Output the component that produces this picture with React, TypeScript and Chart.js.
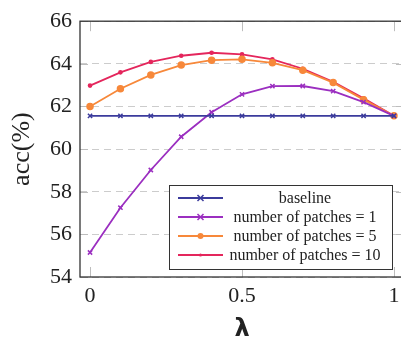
import React, { useEffect, useRef } from 'react';
import { Chart, registerables } from 'chart.js';

Chart.register(...registerables);

const lambdas = [0, 0.1, 0.2, 0.3, 0.4, 0.5, 0.6, 0.7, 0.8, 0.9, 1.0];
const baseline = [61.56, 61.56, 61.56, 61.56, 61.56, 61.56, 61.56, 61.56, 61.56, 61.56, 61.56];
const patches1 = [55.15, 57.25, 59.02, 60.58, 61.73, 62.57, 62.95, 62.96, 62.72, 62.2, 61.56];
const patches5 = [62.0, 62.83, 63.48, 63.94, 64.17, 64.21, 64.05, 63.7, 63.12, 62.32, 61.56];
const patches10 = [62.98, 63.6, 64.09, 64.38, 64.52, 64.44, 64.21, 63.77, 63.16, 62.38, 61.56];
const xTicks = [0, 0.5, 1];
const yTicks = [54, 56, 58, 60, 62, 64, 66];
const seriesLabels = ['baseline', 'number of patches = 1', 'number of patches = 5', 'number of patches = 10'];

const COLORS = ['#3b3b9c', '#9b2fc0', '#f7883a', '#e4265c'];
const STYLES = ['crossRot', 'crossRot', 'circle', 'circle'];
const RADII = [3, 3, 3, 1.6];
const FONT = '"Liberation Serif", "Times New Roman", serif';

function drawMarker(ctx: CanvasRenderingContext2D, style: string, x: number, y: number, r: number, color: string) {
  ctx.save();
  ctx.strokeStyle = color;
  ctx.fillStyle = color;
  ctx.lineWidth = 1.5;
  if (style === 'crossRot') {
    ctx.beginPath();
    ctx.moveTo(x - r, y - r);
    ctx.lineTo(x + r, y + r);
    ctx.moveTo(x - r, y + r);
    ctx.lineTo(x + r, y - r);
    ctx.stroke();
  } else {
    ctx.beginPath();
    ctx.arc(x, y, r, 0, Math.PI * 2);
    ctx.fill();
  }
  ctx.restore();
}

const framePlugin = {
  id: 'frame',
  beforeDatasetsDraw(chart: any) {
    const { ctx, chartArea: a, scales } = chart;
    ctx.save();
    ctx.strokeStyle = '#bdbdbd';
    ctx.lineWidth = 1;
    xTicks.forEach((v) => {
      const px = Math.round(scales.x.getPixelForValue(v)) + 0.5;
      ctx.beginPath();
      ctx.moveTo(px, a.bottom);
      ctx.lineTo(px, a.bottom - 10);
      ctx.moveTo(px, a.top);
      ctx.lineTo(px, a.top + 10);
      ctx.stroke();
    });
    yTicks.forEach((v) => {
      const py = Math.round(scales.y.getPixelForValue(v)) + 0.5;
      ctx.beginPath();
      ctx.moveTo(a.left, py);
      ctx.lineTo(a.left + 8, py);
      ctx.moveTo(a.right, py);
      ctx.lineTo(a.right - 8, py);
      ctx.stroke();
    });
    ctx.restore();
  },
  afterDraw(chart: any) {
    const { ctx, chartArea: a } = chart;
    ctx.save();
    ctx.strokeStyle = '#333333';
    ctx.lineWidth = 1.3;
    ctx.strokeRect(a.left, a.top, a.right - a.left, a.bottom - a.top);

    // legend
    const bx = a.right - 235;
    const by = a.bottom - 92;
    const bw = 223;
    const bh = 84;
    ctx.fillStyle = '#ffffff';
    ctx.fillRect(bx, by, bw, bh);
    ctx.strokeStyle = '#333333';
    ctx.lineWidth = 1;
    ctx.strokeRect(bx + 0.5, by + 0.5, bw, bh);
    ctx.font = `16px ${FONT}`;
    ctx.textAlign = 'center';
    ctx.textBaseline = 'middle';
    seriesLabels.forEach((lab, i) => {
      const cy = by + 13 + i * 19;
      ctx.strokeStyle = COLORS[i];
      ctx.lineWidth = 2;
      ctx.beginPath();
      ctx.moveTo(bx + 9, cy);
      ctx.lineTo(bx + 54, cy);
      ctx.stroke();
      drawMarker(ctx, STYLES[i], bx + 31.5, cy, RADII[i], COLORS[i]);
      ctx.fillStyle = '#222222';
      ctx.fillText(lab, bx + 136, cy + 1);
    });
    ctx.restore();
  },
};

export default function App() {
  const ref = useRef<HTMLCanvasElement>(null);
  useEffect(() => {
    if (!ref.current) return;
    const mk = (vals: number[], i: number) => ({
      label: seriesLabels[i],
      data: lambdas.map((x, k) => ({ x, y: vals[k] })),
      borderColor: COLORS[i],
      backgroundColor: COLORS[i],
      pointStyle: STYLES[i] as any,
      pointRadius: RADII[i],
      pointBorderWidth: 1.5,
      borderWidth: 1.8,
      tension: 0,
      fill: false,
    });
    const chart = new Chart(ref.current, {
      type: 'line',
      data: {
        datasets: [mk(baseline, 0), mk(patches1, 1), mk(patches5, 2), mk(patches10, 3)],
      },
      options: {
        animation: false,
        responsive: false,
        layout: { padding: { left: 0, top: 15, right: 8, bottom: 0 } },
        plugins: { legend: { display: false }, tooltip: { enabled: false } },
        scales: {
          x: {
            type: 'linear',
            min: -0.033,
            max: 1.033,
            afterBuildTicks: (s: any) => {
              s.ticks = xTicks.map((v) => ({ value: v }));
            },
            afterFit: (s: any) => {
              s.height = 62;
            },
            grid: { display: false, drawTicks: false },
            border: { display: false },
            ticks: {
              padding: 6,
              color: '#222222',
              font: { family: FONT, size: 22 },
              callback: (v: any) => String(v),
            },
            title: {
              display: true,
              text: 'λ',
              color: '#222222',
              font: { family: 'DejaVu Sans', size: 24, weight: 'bold', lineHeight: 0.8 },
              padding: { top: 0, bottom: 0 },
            },
          },
          y: {
            type: 'linear',
            min: 54,
            max: 66,
            afterBuildTicks: (s: any) => {
              s.ticks = yTicks.map((v) => ({ value: v }));
            },
            afterFit: (s: any) => {
              s.width = 80;
            },
            grid: { color: '#cccccc', lineWidth: 1, drawTicks: false },
            border: { display: false, dash: [7, 5] },
            ticks: {
              padding: 8,
              color: '#222222',
              font: { family: FONT, size: 22 },
            },
            title: {
              display: true,
              text: 'acc(%)',
              color: '#222222',
              font: { family: FONT, size: 26 },
              padding: { top: 7, bottom: 0 },
            },
          },
        },
      } as any,
      plugins: [framePlugin],
    });
    return () => chart.destroy();
  }, []);
  return (
    <div style={{ position: 'absolute', left: 0, top: 0, width: 401, height: 339, overflow: 'hidden', background: '#fff' }}>
      <canvas ref={ref} width={412} height={339} style={{ display: 'block' }} />
    </div>
  );
}
